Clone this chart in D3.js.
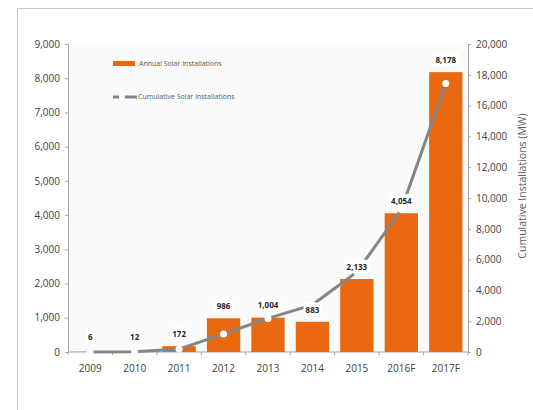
<!DOCTYPE html>
<html>
<head>
<meta charset="utf-8">
<script src="https://cdn.jsdelivr.net/npm/d3@7"></script>
<style>
  body { margin: 0; background: #fff; }
  text { font-family: "Open Sans", "DejaVu Sans", sans-serif; }
  .axis path, .axis line { stroke: #a6a6a6; }
  .axis text { fill: #404040; font-size: 10px; }
</style>
</head>
<body>
<script>
const years = ['2009','2010','2011','2012','2013','2014','2015','2016F','2017F']
const annual = [6, 12, 172, 986, 1004, 883, 2133, 4054, 8178]
const cumulative = [6, 18, 190, 1176, 2180, 3063, 5196, 9250, 17428]
const leftTicks = [0,1000,2000,3000,4000,5000,6000,7000,8000,9000]
const rightTicks = [0,2000,4000,6000,8000,10000,12000,14000,16000,18000,20000]

const W = 533, H = 410
const margin = {top: 44, right: 65, bottom: 58, left: 68},
  width = W - margin.left - margin.right,
  height = H - margin.top - margin.bottom

const data = years.map((y, i) => ({year: y, annual: annual[i], cum: cumulative[i]}))
const fmt = d3.format(',')

const svgRoot = d3.select('body').append('svg')
    .attr('width', W)
    .attr('height', H)

// outer frame
svgRoot.append('path')
    .attr('d', `M17.5,${H} V8.5 H${W}`)
    .attr('fill', 'none')
    .attr('stroke', '#c8c8c8')

const svg = svgRoot.append('g')
    .attr('transform', `translate(${margin.left},${margin.top})`)

// faint plot background
svg.append('rect')
    .attr('x', 0).attr('y', 3)
    .attr('width', width).attr('height', height - 3)
    .attr('fill', '#fafafa')

const x = d3.scaleBand()
    .domain(years)
    .range([0, width])
    .paddingInner(0.25)
    .paddingOuter(0.125)

const y = d3.scaleLinear().domain([0, 9000]).range([height, 0])
const y2 = d3.scaleLinear().domain([0, 20000]).range([height, 0])

// axes
svg.append('g')
    .attr('class', 'axis')
    .call(d3.axisLeft(y).tickValues(leftTicks).tickFormat(fmt).tickSize(3).tickPadding(5))

svg.append('g')
    .attr('class', 'axis')
    .attr('transform', `translate(${width},0)`)
    .call(d3.axisRight(y2).tickValues(rightTicks).tickFormat(fmt).tickSize(3).tickPadding(5))

const xAxis = svg.append('g')
    .attr('class', 'axis')
    .attr('transform', `translate(0,${height})`)
    .call(d3.axisBottom(x).tickSize(0).tickPadding(13))
xAxis.select('.domain').remove()
xAxis.append('line')
    .attr('x1', 0).attr('x2', width)
    .attr('stroke', '#a6a6a6')
// ticks between categories
xAxis.selectAll('.sep')
  .data(d3.range(years.length + 1))
  .join('line')
    .attr('class', 'sep')
    .attr('x1', i => i * width / years.length)
    .attr('x2', i => i * width / years.length)
    .attr('y1', 0).attr('y2', 3)
    .attr('stroke', '#a6a6a6')

// bars
svg.selectAll('.bar')
  .data(data)
  .join('rect')
    .attr('class', 'bar')
    .attr('x', d => x(d.year))
    .attr('y', d => y(d.annual))
    .attr('width', x.bandwidth())
    .attr('height', d => height - y(d.annual))
    .attr('fill', '#e8690f')

// cumulative line
const line = d3.line()
    .x(d => x(d.year) + x.bandwidth() / 2)
    .y(d => y2(d.cum))

svg.append('path')
    .datum(data)
    .attr('d', line)
    .attr('fill', 'none')
    .attr('stroke', '#858585')
    .attr('stroke-width', 3)

svg.selectAll('.dot')
  .data(data)
  .join('circle')
    .attr('class', 'dot')
    .attr('cx', d => x(d.year) + x.bandwidth() / 2)
    .attr('cy', d => y2(d.cum))
    .attr('r', 3.5)
    .attr('fill', '#fff')

// bar labels with white boxes
const lab = svg.selectAll('.lab')
  .data(data)
  .join('g')
    .attr('class', 'lab')
    .attr('transform', d => `translate(${x(d.year) + x.bandwidth() / 2},${Math.min(y(d.annual) - 12, height - 15)})`)

lab.append('text')
    .attr('text-anchor', 'middle')
    .attr('dy', '0.35em')
    .attr('font-size', 8)
    .attr('font-weight', 'bold')
    .attr('fill', '#262626')
    .text(d => fmt(d.annual))

lab.insert('rect', 'text')
    .each(function() {
      const b = this.parentNode.querySelector('text').getBBox()
      d3.select(this)
          .attr('x', b.x - 2).attr('y', b.y - 1)
          .attr('width', b.width + 4).attr('height', b.height + 2)
    })
    .attr('fill', '#fff')

// legend
const leg = svg.append('g').attr('transform', 'translate(45,0)')
leg.append('rect')
    .attr('x', 0).attr('y', 17)
    .attr('width', 22).attr('height', 5)
    .attr('fill', '#e8690f')
leg.append('text')
    .attr('x', 26).attr('y', 20)
    .attr('dy', '0.35em')
    .attr('font-size', 7)
    .attr('fill', '#595959')
    .text('Annual Solar Installations')
leg.append('line')
    .attr('x1', 0).attr('x2', 24)
    .attr('y1', 53).attr('y2', 53)
    .attr('stroke', '#858585')
    .attr('stroke-width', 3)
leg.append('circle')
    .attr('cx', 9).attr('cy', 53).attr('r', 3)
    .attr('fill', '#fff')
leg.append('text')
    .attr('x', 25).attr('y', 53)
    .attr('dy', '0.35em')
    .attr('font-size', 7)
    .attr('fill', '#595959')
    .text('Cumulative Solar Installations')

// right axis title
svgRoot.append('text')
    .attr('transform', `translate(522,${margin.top + height / 2 - 12}) rotate(-90)`)
    .attr('text-anchor', 'middle')
    .attr('dy', '0.35em')
    .attr('font-size', 10.5)
    .attr('fill', '#595959')
    .text('Cumulative Installations (MW)')
</script>
</body>
</html>
